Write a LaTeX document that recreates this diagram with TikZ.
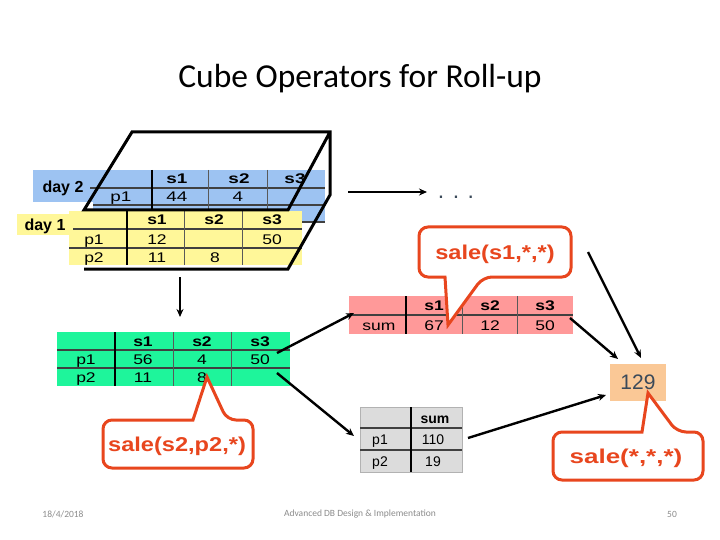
\documentclass[tikz,border=0pt]{standalone}
\usepackage{fontspec}
\usepackage{graphicx}
\setmainfont{Liberation Sans}
\newfontfamily\titlefont{Carlito}
\newfontfamily\tabA[FakeStretch=1.25]{Liberation Sans}
\newfontfamily\tabB[FakeStretch=1.35]{Liberation Sans}
\newfontfamily\callf[FakeStretch=1.18]{Liberation Sans}
\newfontfamily\callg[FakeStretch=1.3]{Liberation Sans}
\usetikzlibrary{arrows.meta}
\definecolor{bluec}{HTML}{9DC3F2}
\definecolor{yellowc}{HTML}{FFF799}
\definecolor{greenc}{HTML}{1EF59B}
\definecolor{redc}{HTML}{FF9999}
\definecolor{greyc}{HTML}{DCDCDC}
\definecolor{orangec}{HTML}{FAC896}
\definecolor{callc}{HTML}{E8461E}
\definecolor{slate}{HTML}{3B4A5A}
\definecolor{footc}{HTML}{8C8C8C}
\begin{document}
\begin{tikzpicture}[x=1pt,y=-1pt,
  cellbase/.style={inner sep=0pt, text height=10pt, text depth=0pt},
  va/.style={cellbase, font=\tabA\fontsize{14}{16}\selectfont},
  ha/.style={cellbase, font=\tabA\bfseries\fontsize{14}{16}\selectfont},
  vb/.style={cellbase, font=\tabB\fontsize{14}{16}\selectfont},
  hb/.style={cellbase, font=\tabB\bfseries\fontsize{14}{16}\selectfont},
  vg/.style={cellbase, font=\fontsize{14}{16}\selectfont},
  hg/.style={cellbase, font=\bfseries\fontsize{14}{16}\selectfont},
  daylbl/.style={cellbase, text height=11pt, font=\bfseries\fontsize{16}{18}\selectfont},
  hline/.style={draw=black!75, line width=1.2pt},
  vbold/.style={draw=black, line width=1.8pt},
  vthin/.style={draw=black!65, line width=1pt},
  cube/.style={draw=black, line width=3pt, line join=miter},
  conn/.style={draw=black, line width=2.4pt, -{Stealth[length=8pt,width=7pt]}},
  callout/.style={draw=callc, line width=3pt, fill=white, rounded corners=9pt},
  calltext/.style={inner sep=0pt, text=callc, text height=14pt, text depth=4pt},
  foot/.style={inner sep=0pt, text=footc, font=\titlefont\fontsize{9.5}{11}\selectfont}]
\useasboundingbox (0,0) rectangle (720,540);
\fill[white] (0,0) rectangle (720,540);

% title
\node[inner sep=0pt, font=\titlefont\fontsize{33.5}{38}\selectfont] (title) at (360,79) {Cube Operators for Roll-up};

% ---------- day 2 (blue) table ----------
\fill[bluec] (33,170) rectangle (93,202);
\fill[bluec] (93,170) rectangle (325,223);
\draw[hline] (90,188) -- (325,188);
\draw[hline] (93,205) -- (325,205);
\draw[hline] (93,222) -- (325,222);
\draw[vbold] (152,170) -- (152,223);
\draw[vthin] (208,170) -- (208,223);
\draw[vthin] (267,170) -- (267,223);
\node[daylbl] (d2) at (63,187) {day 2};
\node[hb] (b11) at (177,179) {s1};
\node[hb] (b12) at (239,179) {s2};
\node[hb] (b13) at (295,179) {s3};
\node[vb] (b20) at (121,197) {p1};
\node[vb] (b21) at (177,197) {44};
\node[vb] (b22) at (238,197) {4};

% ---------- day 1 (yellow) table ----------
\fill[yellowc] (17,214) rectangle (70,235);
\fill[yellowc] (69,211) rectangle (302,265);
\draw[hline] (73,229) -- (302,229);
\draw[hline] (69,248) -- (302,248);
\draw[vbold] (127,211) -- (127,265);
\draw[vthin] (184,211) -- (184,265);
\draw[vthin] (242,211) -- (242,265);
\node[daylbl] (d1) at (45,225) {day 1};
\node[ha] (y11) at (157,220) {s1};
\node[ha] (y12) at (214,220) {s2};
\node[ha] (y13) at (272,220) {s3};
\node[va] (y20) at (94,239) {p1};
\node[va] (y21) at (157,239) {12};
\node[va] (y23) at (272,239) {50};
\node[va] (y30) at (94,257) {p2};
\node[va] (y31) at (157,257) {11};
\node[va] (y32) at (215,257) {8};

% ---------- cube outline ----------
\draw[cube] (84,269) -- (288,269) -- (330,195) -- (330,132) -- (132,132) -- (84,210) -- (288,210) -- (330,132);

% ---------- green table ----------
\fill[greenc] (57,332) rectangle (290,386);
\draw[hline] (57,350) -- (290,350);
\draw[hline] (57,368) -- (290,368);
\draw[vbold] (115,332) -- (115,386);
\draw[vthin] (173,332) -- (173,386);
\draw[vthin] (231,332) -- (231,386);
\node[ha] (g11) at (143,341) {s1};
\node[ha] (g12) at (202,341) {s2};
\node[ha] (g13) at (260,341) {s3};
\node[va] (g20) at (86,359) {p1};
\node[va] (g21) at (143,359) {56};
\node[va] (g22) at (202,359) {4};
\node[va] (g23) at (260,359) {50};
\node[va] (g30) at (86,377) {p2};
\node[va] (g31) at (143,377) {11};
\node[va] (g32) at (202,377) {8};

% ---------- red table ----------
\fill[redc] (349,296) rectangle (573,334);
\draw[hline] (349,315) -- (573,315);
\draw[vbold] (406,296) -- (406,334);
\draw[vthin] (462,296) -- (462,334);
\draw[vthin] (517,296) -- (517,334);
\node[ha] (r11) at (434,305) {s1};
\node[ha] (r12) at (490,305) {s2};
\node[ha] (r13) at (545,305) {s3};
\node[va] (r20) at (379,325) {sum};
\node[va] (r21) at (434,325) {67};
\node[va] (r22) at (490,325) {12};
\node[va] (r23) at (545,325) {50};

% ---------- grey table ----------
\filldraw[fill=greyc, draw=black!30, line width=0.8pt] (360,407) rectangle (462,472);
\draw[hline] (360,428) -- (462,428);
\draw[hline] (360,450) -- (462,450);
\draw[vbold] (411,407) -- (411,472);
\node[hg] (s11) at (435,418) {sum};
\node[vg] (s20) at (380,439) {p1};
\node[vg] (s21) at (433,439) {110};
\node[vg] (s30) at (380,461) {p2};
\node[vg] (s31) at (433,461) {19};

% ---------- total ----------
\node[fill=orangec, minimum width=56pt, minimum height=37pt, inner sep=0pt,
      text=slate, text height=15pt, text depth=0pt, font=\fontsize{21}{23}\selectfont] (tot) at (638,382) {129};

% dots
\node[inner sep=0pt, text=slate, font=\fontsize{23}{25}\selectfont] (dots) at (456,197) {. . .};

% ---------- connectors ----------
\coordinate (cubeR) at (348,192);
\coordinate (dotsL) at (427,192);
\coordinate (cubeB) at (180,277);
\coordinate (greenT) at (180,317);
\coordinate (gA) at (277,353);
\coordinate (rA) at (354,313);
\coordinate (gB) at (277,373);
\coordinate (sA) at (354,436);
\coordinate (rB) at (570,318);
\coordinate (tA) at (618,359);
\coordinate (cC) at (588,252);
\coordinate (tB) at (641,358);
\coordinate (sB) at (468,438);
\coordinate (tC) at (606,395);
\draw[conn] (cubeR) -- (dotsL);
\draw[conn] (cubeB) -- (greenT);
\draw[conn] (gA) -- (rA);
\draw[conn] (gB) -- (sA);
\draw[conn] (rB) -- (tA);
\draw[conn] (cC) -- (tB);
\draw[conn] (sB) -- (tC);

% ---------- callouts ----------
\draw[callout] (445,277) -- (419,277) -- (419,227) -- (571,227) -- (571,277) -- (483,277) [sharp corners] -- (448,325) -- cycle;
\node[calltext, font=\callf\bfseries\fontsize{20}{22}\selectfont] (c1) at (495,254) {sale(s1,*,*)};

\draw[callout] (193,420) -- (103,420) -- (103,468) -- (253,468) -- (253,420) -- (227,420) [sharp corners] -- (207,377) -- cycle;
\node[calltext, font=\callf\bfseries\fontsize{20}{22}\selectfont] (c2) at (177,446) {sale(s2,p2,*)};

\draw[callout] (642,432) -- (553,432) -- (553,480) -- (703,480) -- (703,432) -- (677,432) [sharp corners] -- (648,393) -- cycle;
\node[calltext, font=\callg\bfseries\fontsize{20}{22}\selectfont] (c3) at (626,458) {sale(*,*,*)};

% ---------- footer ----------
\node[foot] (fdate) at (63,514) {18/4/2018};
\node[foot] (fmid) at (360,514) {Advanced DB Design \& Implementation};
\node[foot] (fnum) at (672,514) {50};
\end{tikzpicture}
\end{document}
